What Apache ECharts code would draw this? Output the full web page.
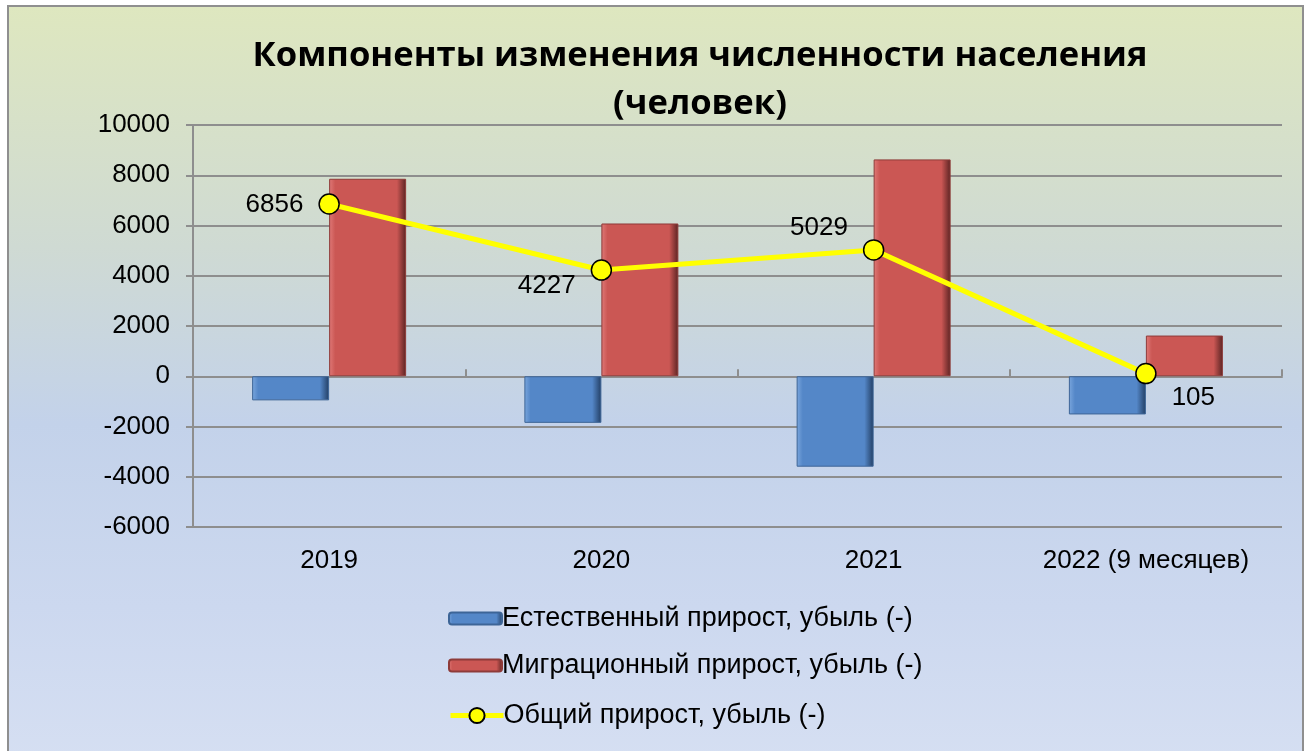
<!DOCTYPE html>
<html>
<head>
<meta charset="utf-8">
<script src="https://cdn.jsdelivr.net/npm/echarts@6/dist/echarts.min.js"></script>
<style>
  html, body { margin: 0; padding: 0; background: #ffffff; }
  .frame {
    position: absolute; left: 7px; top: 5px; width: 1293px; height: 800px;
    border: 2px solid #8f8f8f;
    background: linear-gradient(to bottom, #dee7bf 0%, #cfdad3 30%, #c3d2ea 52%, #ccd8ef 75%, #d8e1f3 100%);
  }
  #chart { position: absolute; left: 0; top: 0; width: 1309px; height: 751px; }
</style>
</head>
<body>
<div class="frame"></div>
<div id="chart"></div>
<script>
// categories and values
const years = ["2019", "2020", "2021", "2022 (9 месяцев)"];
const natural = [-960, -1855, -3600, -1520];
const migration = [7860, 6080, 8630, 1620];
const total = [6856, 4227, 5029, 105];
const yTicks = [-6000, 10000, 2000]; // min, max, step

const seriesNames = [
  "Естественный прирост, убыль (-)",
  "Миграционный прирост, убыль (-)",
  "Общий прирост, убыль (-)"
];

// where each total label sits next to its point
const labelPlace = [
  { position: "left", offset: [0, 1] },
  { position: "left", offset: [0, 16] },
  { position: "left", offset: [0, -22] },
  { position: "right", offset: [0, 24] }
];

const font = "Liberation Sans, Arial, sans-serif";
const legendText = { fontFamily: font, fontSize: 27, color: "#000000", padding: [0, 0, 0, -5] };

function barFill(light, main, dark) {
  return {
    type: "linear", x: 0, y: 0, x2: 1, y2: 0,
    colorStops: [
      { offset: 0, color: light },
      { offset: 0.08, color: main },
      { offset: 0.88, color: main },
      { offset: 1, color: dark }
    ]
  };
}

const myChart = echarts.init(document.getElementById("chart"));
myChart.setOption({
  animation: false,
  title: {
    text: "Компоненты изменения численности населения\n(человек)",
    left: 695,
    textAlign: "center",
    top: 27,
    textStyle: {
      fontFamily: "Open Sans, Noto Sans, sans-serif",
      fontWeight: "bold",
      fontSize: 34.6,
      lineHeight: 48,
      color: "#000000"
    }
  },
  grid: { left: 193, top: 125, width: 1089, height: 402 },
  legend: [
    {
      orient: "vertical",
      left: 443,
      top: 600,
      itemWidth: 53,
      itemHeight: 12,
      itemGap: 20,
      textStyle: legendText,
      data: seriesNames.slice(0, 2)
    },
    {
      orient: "vertical",
      left: 443,
      top: 697,
      itemWidth: 53,
      itemHeight: 19,
      lineStyle: { width: 5 },
      textStyle: legendText,
      data: seriesNames.slice(2)
    }
  ],
  xAxis: [
    {
      type: "category",
      data: years,
      position: "bottom",
      axisLine: { show: false, onZero: false },
      axisTick: { show: false },
      axisLabel: { fontFamily: font, fontSize: 26, color: "#000000", margin: 21 }
    },
    {
      type: "category",
      data: years,
      position: "bottom",
      axisLine: { show: true, onZero: true, lineStyle: { color: "#8e8e8e", width: 2 } },
      axisTick: { show: true, length: 7, inside: true, lineStyle: { color: "#8e8e8e", width: 2 } },
      axisLabel: { show: false }
    }
  ],
  yAxis: {
    type: "value",
    min: yTicks[0],
    max: yTicks[1],
    interval: yTicks[2],
    axisLine: { show: true, lineStyle: { color: "#8e8e8e", width: 2 } },
    axisTick: { show: true, length: 7, lineStyle: { color: "#8e8e8e", width: 2 } },
    splitLine: { lineStyle: { color: "#8e8e8e", width: 2 } },
    axisLabel: {
      fontFamily: font, fontSize: 26, color: "#000000", margin: 23,
      formatter: v => String(v)
    }
  },
  series: [
    {
      name: seriesNames[0],
      type: "bar",
      barWidth: 77,
      barGap: "0%",
      data: natural,
      itemStyle: {
        color: barFill("#7aa6dd", "#5487c8", "#223e63"),
        borderColor: "#3d6597",
        borderWidth: 1
      }
    },
    {
      name: seriesNames[1],
      type: "bar",
      barWidth: 77,
      barGap: "0%",
      data: migration,
      itemStyle: {
        color: barFill("#e07a78", "#cb5754", "#5a2322"),
        borderColor: "#8e3b39",
        borderWidth: 1
      }
    },
    {
      name: seriesNames[2],
      type: "line",
      z: 5,
      data: total.map((v, i) => ({
        value: v,
        label: {
          show: true,
          position: labelPlace[i].position,
          offset: labelPlace[i].offset,
          distance: 15
        }
      })),
      symbol: "circle",
      symbolSize: 20,
      lineStyle: { color: "#ffff00", width: 5 },
      itemStyle: { color: "#ffff00", borderColor: "#000000", borderWidth: 1.5 },
      label: { fontFamily: font, fontSize: 26, color: "#000000" }
    }
  ]
});
</script>
</body>
</html>
